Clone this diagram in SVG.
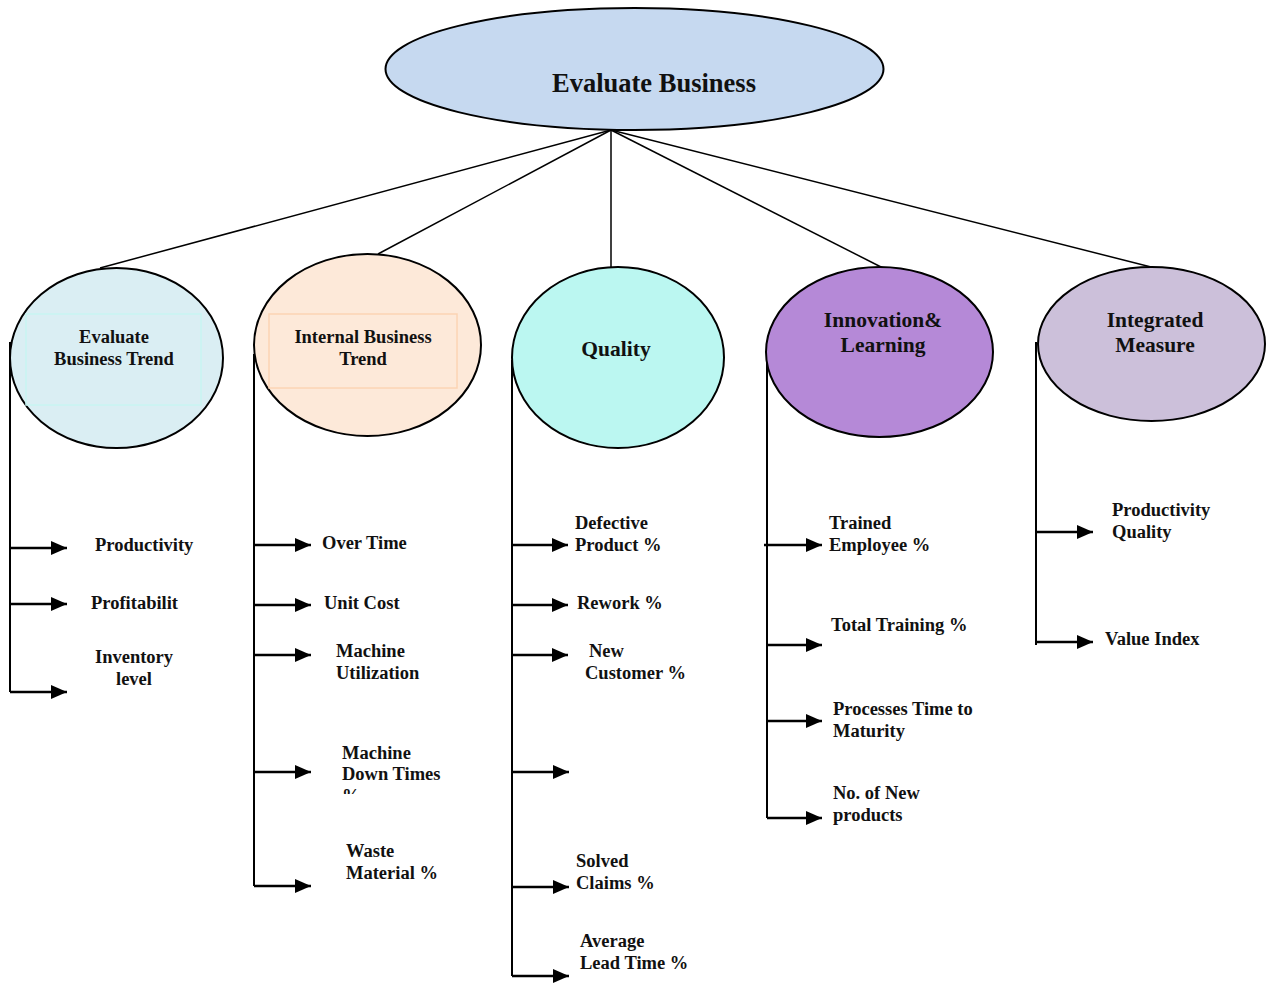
<svg xmlns="http://www.w3.org/2000/svg" width="1266" height="983" viewBox="0 0 1266 983">
<style>
.n{stroke:#000;stroke-width:2}
.t{font-family:"Liberation Serif","Times New Roman",serif;font-weight:bold;fill:#111;font-size:18.5px}
.c{text-anchor:middle}
.ln{stroke:#000;stroke-width:1.5;fill:none}
.br{stroke:#000;stroke-width:2;fill:none}
.ar{stroke:#000;stroke-width:2.5;fill:none;marker-end:url(#arr)}
</style>
<defs>
<marker id="arr" viewBox="0 0 16 14" refX="16" refY="7" markerWidth="16" markerHeight="14" markerUnits="userSpaceOnUse" orient="auto"><path d="M0,0 L16,7 L0,14 z" fill="#000"/></marker>
<clipPath id="cl"><rect x="330" y="780" width="120" height="14"/></clipPath>
</defs>
<rect width="1266" height="983" fill="#fff"/>
<g id="connectors">
<line class="ln" x1="611" y1="130" x2="100" y2="268"/>
<line class="ln" x1="611" y1="130" x2="378" y2="254"/>
<line class="ln" x1="611" y1="130" x2="611" y2="268"/>
<line class="ln" x1="611" y1="130" x2="883" y2="268"/>
<line class="ln" x1="611" y1="130" x2="1155" y2="268"/>
<line class="br" x1="10" y1="342" x2="10" y2="692"/>
<line class="ar" x1="10" y1="548" x2="67" y2="548"/>
<line class="ar" x1="10" y1="604" x2="67" y2="604"/>
<line class="ar" x1="10" y1="692" x2="67" y2="692"/>
<line class="br" x1="254" y1="354" x2="254" y2="886"/>
<line class="ar" x1="254" y1="545" x2="311" y2="545"/>
<line class="ar" x1="254" y1="605" x2="311" y2="605"/>
<line class="ar" x1="254" y1="655" x2="311" y2="655"/>
<line class="ar" x1="254" y1="772" x2="311" y2="772"/>
<line class="ar" x1="254" y1="886" x2="311" y2="886"/>
<line class="br" x1="512" y1="360" x2="512" y2="976"/>
<line class="ar" x1="512" y1="545" x2="568" y2="545"/>
<line class="ar" x1="512" y1="605" x2="568" y2="605"/>
<line class="ar" x1="512" y1="655" x2="568" y2="655"/>
<line class="ar" x1="512" y1="772" x2="569" y2="772"/>
<line class="ar" x1="512" y1="887" x2="569" y2="887"/>
<line class="ar" x1="512" y1="976" x2="569" y2="976"/>
<line class="br" x1="767" y1="355" x2="767" y2="818"/>
<line class="ar" x1="764" y1="545" x2="822" y2="545"/>
<line class="ar" x1="767" y1="645" x2="822" y2="645"/>
<line class="ar" x1="767" y1="721" x2="822" y2="721"/>
<line class="ar" x1="767" y1="818" x2="822" y2="818"/>
<line class="br" x1="1036" y1="342" x2="1036" y2="645"/>
<line class="ar" x1="1036" y1="532" x2="1093" y2="532"/>
<line class="ar" x1="1036" y1="642" x2="1093" y2="642"/>
</g>
<g id="evaluate-business">
<ellipse class="n" cx="634.5" cy="69" rx="249" ry="61" fill="#c6d9f0"/>
<text class="t c" x="654" y="92" style="font-size:26.5px">Evaluate Business</text>
</g>
<g id="evaluate-business-trend">
<ellipse class="n" cx="116.5" cy="358" rx="106.5" ry="90" fill="#daeef3"/>
<rect x="26" y="314" width="175" height="91" fill="none" stroke="#c8f5f2" stroke-width="1.5"/>
<text class="t c" x="114" y="343">Evaluate</text>
<text class="t c" x="114" y="365">Business Trend</text>
</g>
<g id="internal-business-trend">
<ellipse class="n" cx="367.5" cy="345" rx="113.5" ry="91" fill="#fde9d9"/>
<rect x="269" y="314" width="188" height="74" fill="none" stroke="#fbd4b4" stroke-width="1.5"/>
<text class="t c" x="363" y="343">Internal Business</text>
<text class="t c" x="363" y="365">Trend</text>
</g>
<g id="quality">
<ellipse class="n" cx="618" cy="357.5" rx="106" ry="90.5" fill="#bbf7f1"/>
<text class="t c" x="616" y="356" style="font-size:21.5px">Quality</text>
</g>
<g id="innovation-learning">
<ellipse class="n" cx="879.5" cy="352" rx="113.5" ry="85" fill="#b589d7"/>
<text class="t c" x="883" y="327" style="font-size:21.5px">Innovation&amp;</text>
<text class="t c" x="883" y="352" style="font-size:21.5px">Learning</text>
</g>
<g id="integrated-measure">
<ellipse class="n" cx="1151.5" cy="344" rx="113.5" ry="77" fill="#ccc0da"/>
<text class="t c" x="1155" y="327" style="font-size:21.5px">Integrated</text>
<text class="t c" x="1155" y="352" style="font-size:21.5px">Measure</text>
</g>
<g id="labels-col1">
<text class="t" x="95" y="551">Productivity</text>
<text class="t" x="91" y="609">Profitabilit</text>
<text class="t c" x="134" y="663">Inventory</text>
<text class="t c" x="134" y="685">level</text>
</g>
<g id="labels-col2">
<text class="t" x="322" y="549">Over Time</text>
<text class="t" x="324" y="609">Unit Cost</text>
<text class="t" x="336" y="657">Machine</text>
<text class="t" x="336" y="679">Utilization</text>
<text class="t" x="342" y="759">Machine</text>
<text class="t" x="342" y="780">Down Times</text>
<text class="t" x="342" y="802" clip-path="url(#cl)">%</text>
<text class="t" x="346" y="857">Waste</text>
<text class="t" x="346" y="879">Material %</text>
</g>
<g id="labels-col3">
<text class="t" x="575" y="529">Defective</text>
<text class="t" x="575" y="551">Product %</text>
<text class="t" x="577" y="609">Rework %</text>
<text class="t" x="589" y="657">New</text>
<text class="t" x="585" y="679">Customer %</text>
<text class="t" x="576" y="867">Solved</text>
<text class="t" x="576" y="889">Claims %</text>
<text class="t" x="580" y="947">Average</text>
<text class="t" x="580" y="969">Lead Time %</text>
</g>
<g id="labels-col4">
<text class="t" x="829" y="529">Trained</text>
<text class="t" x="829" y="551">Employee %</text>
<text class="t" x="831" y="631">Total Training %</text>
<text class="t" x="833" y="715">Processes Time to</text>
<text class="t" x="833" y="737">Maturity</text>
<text class="t" x="833" y="799">No. of New</text>
<text class="t" x="833" y="821">products</text>
</g>
<g id="labels-col5">
<text class="t" x="1112" y="516">Productivity</text>
<text class="t" x="1112" y="538">Quality</text>
<text class="t" x="1105" y="645">Value Index</text>
</g>
</svg>
